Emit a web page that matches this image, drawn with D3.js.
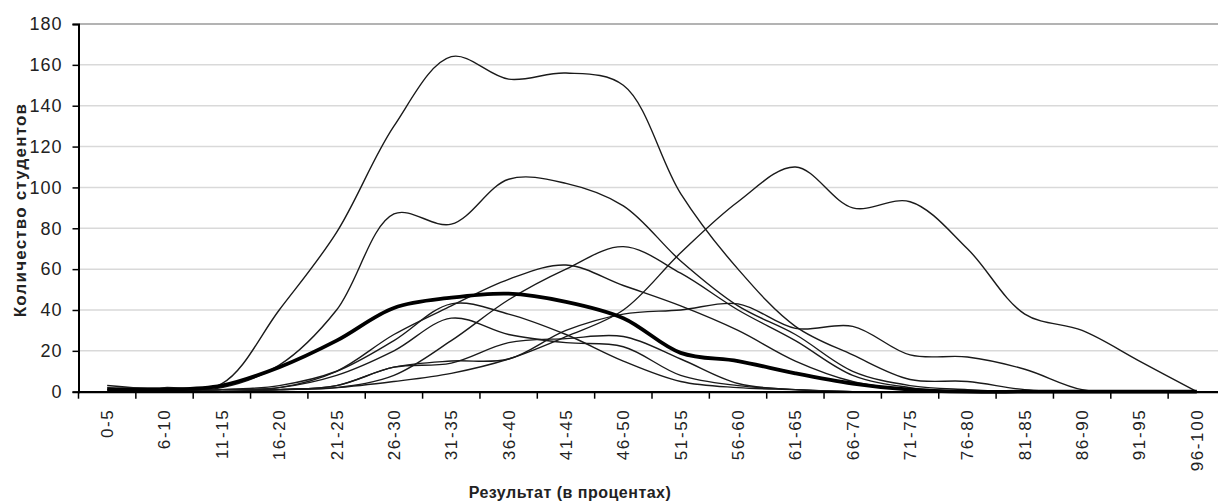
<!DOCTYPE html>
<html><head><meta charset="utf-8">
<script src="https://cdn.jsdelivr.net/npm/d3@7"></script>
<style>body{margin:0;background:#fff}svg{display:block}</style>
</head><body>
<svg id="c" width="1218" height="504"></svg>
<script>
const categories = ["0-5","6-10","11-15","16-20","21-25","26-30","31-35","36-40","41-45","46-50","51-55","56-60","61-65","66-70","71-75","76-80","81-85","86-90","91-95","96-100"];
const yTicks = [0,20,40,60,80,100,120,140,160,180];
const seriesA = [2,2,4,40,78,130,164,153,156,150,97,60,32,18,6,5,1,0,0,0];
const seriesB = [1,1,2,13,40,87,82,104,102,91,64,42,28,10,3,1,0,0,0,0];
const seriesE = [0,0,1,1,2,5,9,16,27,40,68,93,110,90,93,70,38,30,15,0];
const seriesF = [0,0,0,1,3,12,15,16,30,38,40,43,31,32,18,17,11,1,0,0];
const seriesG = [0,0,0,1,2,8,25,45,60,71,58,40,25,8,2,0,0,0,0,0];
const seriesH = [0,0,1,2,10,28,42,55,62,52,42,30,15,5,1,0,0,0,0,0];
const seriesI = [3,1,1,3,10,25,43,38,28,15,5,2,1,0,0,0,0,0,0,0];
const seriesJ = [0,0,1,2,8,20,36,28,24,22,8,3,1,0,0,0,0,0,0,0];
const seriesK = [0,0,0,1,3,12,14,24,26,27,16,4,1,0,0,0,0,0,0,0];
const seriesThick = [1,1,3,12,25,41,46,48,44,36,19,15,9,4,1,0,0,0,0,0];
const thinSeries = [seriesA,seriesB,seriesE,seriesF,seriesG,seriesH,seriesI,seriesJ,seriesK];

(function(){
const svg = d3.select("#c");
const mLeft = 78.5, mRight = 1225.5, mTop = 24, mBottom = 391.7;
const x = d3.scaleBand().domain(categories).range([mLeft,mRight]);
const y = d3.scaleLinear().domain([0,180]).range([mBottom,mTop]);
const font = "'Liberation Sans',Arial,sans-serif";

svg.append("g").selectAll("line").data(yTicks.slice(1)).join("line")
  .attr("x1",mLeft).attr("x2",mRight).attr("y1",d=>y(d)).attr("y2",d=>y(d))
  .attr("stroke",d=>d===180?"#9a9a9a":"#d9d9d9").attr("stroke-width",1.5);

const line = d3.line().x((d,i)=>x(categories[i])+x.bandwidth()/2).y(d=>y(d)).curve(d3.curveCatmullRom.alpha(0.5));

svg.append("g").selectAll("path").data(thinSeries).join("path")
  .attr("d",line).attr("fill","none").attr("stroke","#1a1a1a").attr("stroke-width",1.4);
svg.append("path").datum(seriesThick).attr("d",line).attr("fill","none").attr("stroke","#000").attr("stroke-width",3.8);

const yAxis = svg.append("g").attr("transform",`translate(${mLeft},0)`)
  .call(d3.axisLeft(y).tickValues(yTicks).tickSize(6).tickPadding(10));
yAxis.select(".domain").attr("stroke","#000").attr("stroke-width",2);
yAxis.selectAll(".tick line").attr("stroke","#000").attr("stroke-width",1.5);
yAxis.selectAll("text").attr("font-family",font).attr("font-size",18).attr("letter-spacing","1px").attr("fill","#222");

const xAxis = svg.append("g").attr("transform",`translate(0,${mBottom})`)
  .call(d3.axisBottom(x).tickSize(0).tickPadding(0));
xAxis.select(".domain").attr("stroke","#000").attr("stroke-width",2.2);
xAxis.selectAll(".tick text").attr("transform","rotate(-90)").attr("text-anchor","end")
  .attr("x",-17).attr("y",0).attr("dy","0.35em")
  .attr("font-family",font).attr("font-size",17).attr("letter-spacing","1.6px").attr("fill","#222");
svg.append("g").selectAll("line").data(categories).join("line")
  .attr("x1",d=>x(d)).attr("x2",d=>x(d)).attr("y1",mBottom).attr("y2",mBottom+7)
  .attr("stroke","#000").attr("stroke-width",1.5);

svg.append("text").attr("x",570).attr("y",498).attr("text-anchor","middle")
  .attr("font-family",font).attr("font-weight","bold").attr("font-size",16).attr("letter-spacing","0.5px").attr("fill","#222")
  .text("Результат (в процентах)");
svg.append("text").attr("transform","translate(26,210) rotate(-90)").attr("text-anchor","middle")
  .attr("font-family",font).attr("font-weight","bold").attr("font-size",17).attr("letter-spacing","1.2px").attr("fill","#222")
  .text("Количество студентов");
})();
</script>
</body></html>
